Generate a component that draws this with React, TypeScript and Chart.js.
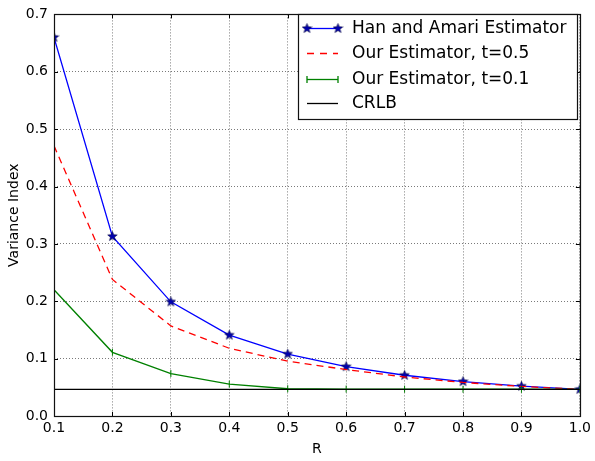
import React, { useEffect, useRef } from 'react';
import { Chart, registerables } from 'chart.js';
Chart.register(...registerables);

const rValues = [0.1, 0.2, 0.3, 0.4, 0.5, 0.6, 0.7, 0.8, 0.9, 1.0];
const hanAmari = [0.66, 0.313, 0.199, 0.141, 0.108, 0.086, 0.071, 0.06, 0.052, 0.0465];
const ourT05 = [0.471, 0.238, 0.157, 0.118, 0.0955, 0.081, 0.068, 0.0585, 0.0515, 0.0465];
const ourT01 = [0.22, 0.111, 0.074, 0.0555, 0.0475, 0.047, 0.0468, 0.0467, 0.0466, 0.0465];
const crlb = [0.0465, 0.0465, 0.0465, 0.0465, 0.0465, 0.0465, 0.0465, 0.0465, 0.0465, 0.0465];
const xTickLabels = ['0.1', '0.2', '0.3', '0.4', '0.5', '0.6', '0.7', '0.8', '0.9', '1.0'];
const yTickLabels = ['0.0', '0.1', '0.2', '0.3', '0.4', '0.5', '0.6', '0.7'];
const seriesLabels = ['Han and Amari Estimator', 'Our Estimator, t=0.5', 'Our Estimator, t=0.1', 'CRLB'];
const xTitle = 'R';
const yTitle = 'Variance Index';

const FONT = '"DejaVu Sans", Verdana, sans-serif';
const LW = 1.3;

function makeStar(size: number, fill: string, stroke: string) {
  const c = document.createElement('canvas');
  c.width = size;
  c.height = size;
  const ctx = c.getContext('2d')!;
  const cx = size / 2, cy = size / 2;
  const R = size / 2 - 0.5, r = R * 0.42;
  ctx.beginPath();
  for (let i = 0; i < 10; i++) {
    const a = -Math.PI / 2 + (i * Math.PI) / 5;
    const rad = i % 2 === 0 ? R : r;
    const x = cx + rad * Math.cos(a), y = cy + rad * Math.sin(a);
    if (i === 0) ctx.moveTo(x, y); else ctx.lineTo(x, y);
  }
  ctx.closePath();
  ctx.fillStyle = fill;
  ctx.fill();
  ctx.lineWidth = 0.6;
  ctx.strokeStyle = stroke;
  ctx.stroke();
  return c;
}

export default function App() {
  const ref = useRef<HTMLCanvasElement>(null);
  useEffect(() => {
    document.body.style.margin = '0';
    const star = makeStar(11, '#0000b0', '#000040');
    const legendItems = [
      { color: '#0000ff', dash: [] as number[], marker: 'star' },
      { color: '#ff0000', dash: [7, 6], marker: '' },
      { color: '#008000', dash: [] as number[], marker: 'plus' },
      { color: '#000000', dash: [] as number[], marker: '' },
    ];

    const framePlugin = {
      id: 'frame',
      afterDatasetsDraw(chart: any) {
        const ctx = chart.ctx;
        const { left, right, top, bottom } = chart.chartArea;
        const xs = chart.scales.x, ys = chart.scales.y;
        ctx.save();
        ctx.strokeStyle = '#000';
        ctx.lineWidth = 1;
        ctx.setLineDash([]);
        ctx.beginPath();
        for (const v of rValues) {
          const px = Math.round(xs.getPixelForValue(v)) + 0.5;
          ctx.moveTo(px, bottom); ctx.lineTo(px, bottom - 4);
          ctx.moveTo(px, top); ctx.lineTo(px, top + 4);
        }
        for (let i = 0; i < yTickLabels.length; i++) {
          const py = Math.round(ys.getPixelForValue(parseFloat(yTickLabels[i]))) + 0.5;
          ctx.moveTo(left, py); ctx.lineTo(left + 4, py);
          ctx.moveTo(right, py); ctx.lineTo(right - 4, py);
        }
        ctx.stroke();
        ctx.strokeStyle = '#111';
        ctx.lineWidth = 1.2;
        ctx.strokeRect(Math.round(left) + 0.5, Math.round(top) + 0.5, Math.round(right - left), Math.round(bottom - top));

        // legend
        const lx = 298.5, ly = 14.5, lw = 279, lh = 105;
        ctx.fillStyle = '#fff';
        ctx.fillRect(lx, ly, lw, lh);
        ctx.lineWidth = 1.2;
        ctx.strokeStyle = '#111';
        ctx.strokeRect(lx, ly, lw, lh);
        ctx.font = '17px ' + FONT;
        ctx.textBaseline = 'middle';
        ctx.textAlign = 'left';
        const rowY = [28, 53, 79, 103];
        for (let i = 0; i < legendItems.length; i++) {
          const it = legendItems[i];
          const y = rowY[i] + 0.5;
          ctx.strokeStyle = it.color;
          ctx.lineWidth = LW;
          ctx.setLineDash(it.dash);
          ctx.beginPath();
          ctx.moveTo(307, y); ctx.lineTo(338, y);
          ctx.stroke();
          ctx.setLineDash([]);
          if (it.marker === 'star') {
            ctx.drawImage(star, 307 - 5.5, y - 5.5);
            ctx.drawImage(star, 338 - 5.5, y - 5.5);
          } else if (it.marker === 'plus') {
            ctx.beginPath();
            for (const px of [307, 338]) {
              ctx.moveTo(px, y - 3.5); ctx.lineTo(px, y + 3.5);
            }
            ctx.stroke();
          }
          ctx.fillStyle = '#000';
          ctx.fillText(seriesLabels[i], 352, rowY[i] + 1);
        }
        ctx.restore();
      },
      afterDraw(chart: any) {
        const ctx = chart.ctx;
        const { left, right, top, bottom } = chart.chartArea;
        ctx.save();
        ctx.fillStyle = '#000';
        ctx.font = '14px ' + FONT;
        ctx.textAlign = 'center';
        ctx.textBaseline = 'middle';
        ctx.fillText(xTitle, (left + right) / 2, 449);
        ctx.translate(14, (top + bottom) / 2);
        ctx.rotate(-Math.PI / 2);
        ctx.fillText(yTitle, 0, 0);
        ctx.restore();
      },
    };

    const mk = (arr: number[]) => rValues.map((x, i) => ({ x, y: arr[i] }));

    const chart = new Chart(ref.current!, {
      type: 'line',
      data: {
        datasets: [
          {
            label: seriesLabels[0], data: mk(hanAmari), borderColor: '#0000ff', backgroundColor: '#0000ff',
            borderWidth: LW, pointStyle: star as any, pointRadius: 5, pointHoverRadius: 5, tension: 0, clip: 0 as any, order: 3,
          },
          {
            label: seriesLabels[1], data: mk(ourT05), borderColor: '#ff0000', borderDash: [7, 5],
            borderWidth: LW, pointRadius: 0, tension: 0, clip: 0 as any, order: 2,
          },
          {
            label: seriesLabels[2], data: mk(ourT01), borderColor: '#008000', backgroundColor: '#008000',
            borderWidth: LW, pointStyle: 'line', pointRotation: 90, pointRadius: 3.5, pointBorderWidth: 1, pointBorderColor: '#008000',
            tension: 0, clip: 0 as any, order: 1,
          },
          {
            label: seriesLabels[3], data: mk(crlb), borderColor: '#000000', borderWidth: LW, pointRadius: 0,
            tension: 0, clip: 0 as any, order: 0,
          },
        ],
      },
      options: {
        responsive: false,
        animation: false,
        events: [],
        layout: { padding: { left: 0, right: 9, top: 5, bottom: 0 } },
        plugins: { legend: { display: false }, tooltip: { enabled: false } },
        scales: {
          x: {
            type: 'linear', min: 0.1, max: 1.0,
            afterFit: (s: any) => { s.height = 45; },
            afterBuildTicks: (s: any) => { s.ticks = rValues.map((v) => ({ value: v })); },
            ticks: {
              color: '#000', font: { family: FONT, size: 14 }, padding: 4,
              callback: (v: any, i: number) => xTickLabels[i],
              maxRotation: 0, autoSkip: false,
            },
            grid: { color: 'rgba(0,0,0,0.75)', lineWidth: 0.7, drawTicks: false },
            border: { display: false, dash: [1, 2] },
          },
          y: {
            type: 'linear', min: 0, max: 0.7,
            afterFit: (s: any) => { s.width = 54; },
            afterBuildTicks: (s: any) => { s.ticks = yTickLabels.map((t) => ({ value: parseFloat(t) })); },
            ticks: {
              color: '#000', font: { family: FONT, size: 14 }, padding: 6,
              callback: (v: any, i: number) => yTickLabels[i],
              autoSkip: false,
            },
            grid: { color: 'rgba(0,0,0,0.75)', lineWidth: 0.7, drawTicks: false },
            border: { display: false, dash: [1, 2] },
          },
        },
      },
      plugins: [framePlugin],
    });
    return () => chart.destroy();
  }, []);
  return (
    <div style={{ width: 595, height: 461 }}>
      <canvas ref={ref} width={595} height={461} style={{ display: 'block' }} />
    </div>
  );
}
